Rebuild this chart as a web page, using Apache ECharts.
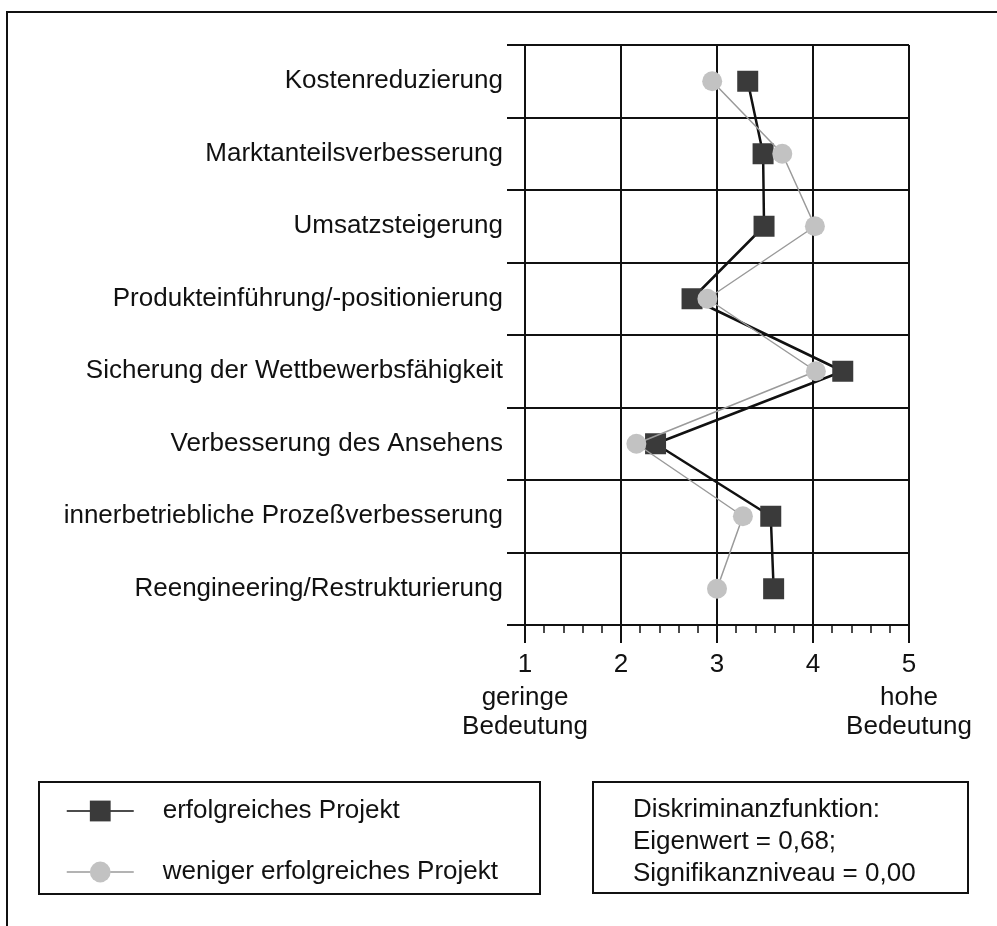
<!DOCTYPE html>
<html>
<head>
<meta charset="utf-8">
<script src="https://cdn.jsdelivr.net/npm/echarts@6/dist/echarts.min.js"></script>
<style>
  html, body { margin: 0; padding: 0; background: #fff; }
  #chart { width: 997px; height: 926px; }
</style>
</head>
<body>
<div id="chart"></div>
<script>
// Ziele (von oben nach unten)
const categories = [
  'Kostenreduzierung',
  'Marktanteilsverbesserung',
  'Umsatzsteigerung',
  'Produkteinführung/-positionierung',
  'Sicherung der Wettbewerbsfähigkeit',
  'Verbesserung des Ansehens',
  'innerbetriebliche Prozeßverbesserung',
  'Reengineering/Restrukturierung'
]
const erfolgreich = [3.32, 3.48, 3.49, 2.74, 4.31, 2.36, 3.56, 3.59]
const wenigerErfolgreich = [2.95, 3.68, 4.02, 2.9, 4.03, 2.16, 3.27, 3.0]
const seriesNames = ['erfolgreiches Projekt', 'weniger erfolgreiches Projekt']
// Zusatztext unter den Skalenenden
const scaleNotes = { 1: 'geringe\nBedeutung', 5: 'hohe\nBedeutung' }
const infoLines = ['Diskriminanzfunktion:', 'Eigenwert = 0,68;', 'Signifikanzniveau = 0,00']

const FONT = '"Liberation Sans", Arial, Helvetica, sans-serif'
const INK = '#111'

const chart = echarts.init(document.getElementById('chart'))

const options = {
  backgroundColor: '#fff',
  animation: false,
  textStyle: { fontFamily: FONT },
  grid: {
    left: 525,
    right: 88,
    top: 45,
    bottom: 301,
    containLabel: false
  },
  xAxis: {
    type: 'value',
    min: 1,
    max: 5,
    interval: 1,
    axisLine: { show: true, lineStyle: { color: INK, width: 2 } },
    axisTick: { show: true, length: 18, lineStyle: { color: INK, width: 2 } },
    minorTick: { show: true, splitNumber: 5, length: 8, lineStyle: { color: INK, width: 1.5 } },
    splitLine: { show: true, lineStyle: { color: INK, width: 2 } },
    axisLabel: {
      margin: 22,
      formatter: (v) => {
        const note = scaleNotes[v]
        if (!note) return '{n|' + v + '}'
        return '{n|' + v + '}\n' + note.split('\n').map((s) => '{t|' + s + '}').join('\n')
      },
      rich: {
        n: { fontSize: 26, lineHeight: 36, color: INK, fontFamily: FONT },
        t: { fontSize: 26, lineHeight: 29, color: INK, fontFamily: FONT }
      }
    }
  },
  yAxis: {
    type: 'category',
    inverse: true,
    data: categories,
    axisLine: { show: true, lineStyle: { color: INK, width: 2 } },
    axisTick: { show: true, length: 18, interval: 0, lineStyle: { color: INK, width: 2 } },
    splitLine: { show: true, interval: 0, lineStyle: { color: INK, width: 2 } },
    axisLabel: { fontSize: 26, color: INK, margin: 22, interval: 0, fontFamily: FONT }
  },
  legend: {
    orient: 'vertical',
    left: 66,
    top: 798,
    padding: 0,
    itemWidth: 67,
    itemHeight: 26,
    itemGap: 35,
    selectedMode: false,
    lineStyle: { width: 1.5 },
    textStyle: { fontSize: 26, lineHeight: 26, color: INK, fontFamily: FONT, padding: [0, 0, 0, 24] },
    data: seriesNames
  },
  graphic: [
    {
      type: 'rect',
      silent: true,
      shape: { x: 7, y: 12, width: 1100, height: 1100 },
      style: { fill: 'none', stroke: INK, lineWidth: 2 }
    },
    {
      type: 'rect',
      silent: true,
      shape: { x: 39, y: 782, width: 501, height: 112 },
      style: { fill: 'none', stroke: INK, lineWidth: 2 }
    },
    {
      type: 'rect',
      silent: true,
      shape: { x: 593, y: 782, width: 375, height: 111 },
      style: { fill: 'none', stroke: INK, lineWidth: 2 }
    },
    {
      type: 'text',
      silent: true,
      left: 633,
      top: 794,
      style: {
        text: infoLines.join('\n'),
        fontSize: 26,
        lineHeight: 32,
        fill: INK,
        fontFamily: FONT
      }
    }
  ],
  series: [
    {
      name: seriesNames[0],
      type: 'line',
      data: erfolgreich,
      symbol: 'rect',
      symbolSize: 21,
      itemStyle: { color: '#3a3a3a' },
      lineStyle: { color: INK, width: 2.5 },
      z: 3
    },
    {
      name: seriesNames[1],
      type: 'line',
      data: wenigerErfolgreich,
      symbol: 'circle',
      symbolSize: 20,
      itemStyle: { color: '#c2c2c2' },
      lineStyle: { color: '#9a9a9a', width: 1.5 },
      z: 4
    }
  ]
}

chart.setOption(options)
</script>
</body>
</html>
